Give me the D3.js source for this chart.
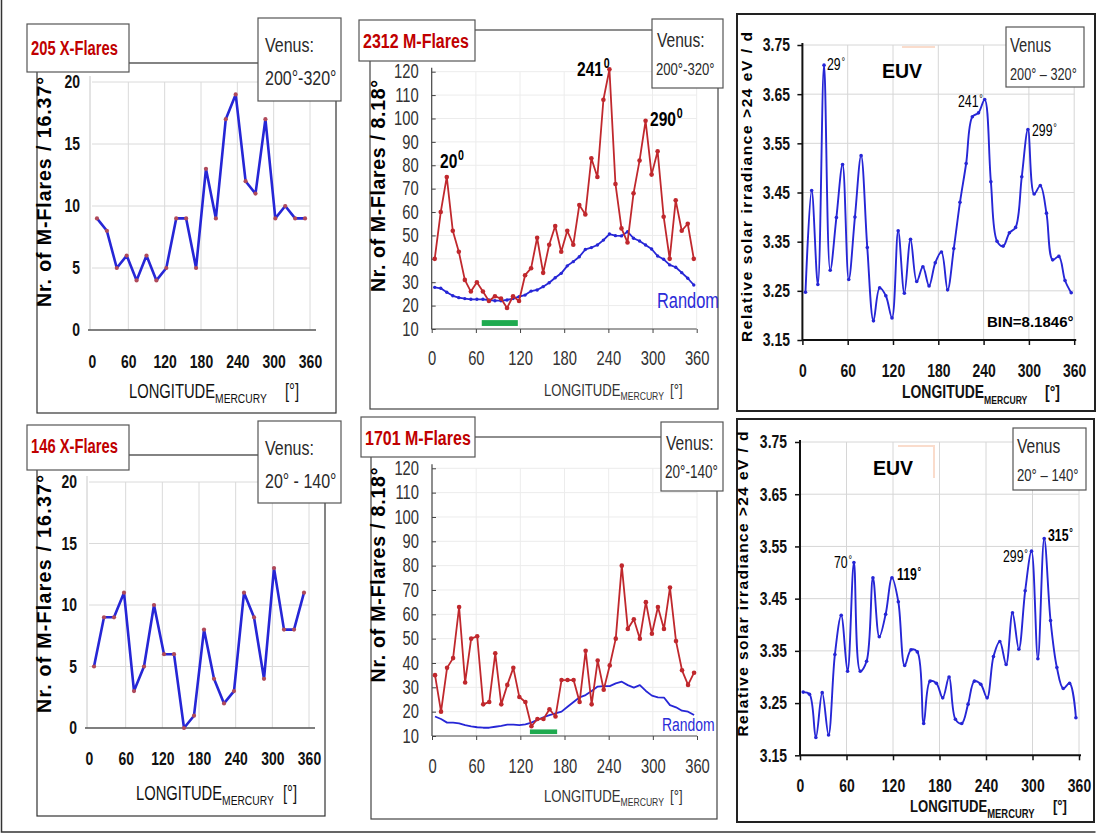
<!DOCTYPE html>
<html>
<head>
<meta charset="utf-8">
<script src="https://cdn.jsdelivr.net/npm/d3@7"></script>
<style>
  body { margin: 0; background: #fff; }
</style>
</head>
<body>
<svg id="fig" width="1097" height="834"></svg>
<script>
// DATA
const longitudeTicks = [0, 60, 120, 180, 240, 300, 360];
const xFlareTicks = [0, 5, 10, 15, 20];
const mFlareTicks = [10, 20, 30, 40, 50, 60, 70, 80, 90, 100, 110, 120];
const euvTicks = [3.15, 3.25, 3.35, 3.45, 3.55, 3.65, 3.75];

const bin16 = 360 / 22;   // 16.37 deg
const bin8 = 8.1846;      // 8.18 deg

const xFlaresVenus200 = [9, 8, 5, 6, 4, 6, 4, 5, 9, 9, 5, 13, 9, 17, 19, 12, 11, 17, 9, 10, 9, 9];
const xFlaresVenus20 = [5, 9, 9, 11, 3, 5, 10, 6, 6, 0, 1, 8, 4, 2, 3, 11, 9, 4, 13, 8, 8, 11];

const mFlaresVenus200 = [40, 60, 75, 52, 43, 31, 26, 30, 26, 22, 24, 23, 19, 24, 22, 33, 36, 49, 34, 46,
  54, 43, 52, 46, 63, 59, 83, 75, 108, 121, 72, 53, 47, 68, 82, 99, 76, 86, 58, 40, 65, 52, 55, 40];
const randomVenus200 = [27.8, 27.4, 25.7, 24.2, 23.4, 23, 22.7, 22.7, 22.7, 22.4, 22.1, 22.1, 22.4, 23, 23.8,
  24.5, 26.2, 26.7, 28.1, 29.8, 31.9, 33.8, 37, 38.8, 40.9, 44, 44.8, 45.9, 48, 50.6, 49.9, 49.8, 51.6, 48.8,
  47.6, 45.9, 44.2, 41.2, 39.8, 37.4, 36.4, 34.1, 31.7, 28.8];

const mFlaresVenus20 = [35, 20, 38, 42, 63, 32, 50, 51, 23, 24, 44, 23, 31, 38, 26, 24, 14, 17, 17, 21,
  18, 33, 33, 33, 24, 45, 23, 41, 29, 39, 50, 80, 54, 58, 50, 65, 52, 63, 54, 71, 49, 37, 31, 36];
const randomVenus20 = [18, 17, 15.5, 15.5, 15.2, 14.5, 14, 13.6, 13.4, 13.4, 13.8, 14.2, 14.7, 14.7, 14.5,
  14.8, 15.5, 16.6, 17.7, 18.6, 19.3, 20, 22, 24, 25.9, 26.8, 28.5, 30.3, 30.5, 30.5, 31.6, 32.3, 30.9, 29.9,
  30.9, 28.5, 26.6, 25.9, 25.8, 22.7, 21.8, 20.4, 20, 18.6];

const euvVenus200 = [3.247, 3.454, 3.263, 3.709, 3.292, 3.399, 3.507, 3.273, 3.40, 3.525, 3.338, 3.189,
  3.256, 3.24, 3.195, 3.372, 3.245, 3.355, 3.269, 3.299, 3.26, 3.307, 3.329, 3.252, 3.336, 3.43, 3.509,
  3.604, 3.612, 3.639, 3.472, 3.351, 3.341, 3.368, 3.379, 3.482, 3.578, 3.447, 3.464, 3.408, 3.313, 3.32,
  3.271, 3.246];
const euvVenus20 = [3.271, 3.267, 3.184, 3.27, 3.189, 3.343, 3.418, 3.311, 3.519, 3.311, 3.33, 3.49,
  3.377, 3.42, 3.49, 3.444, 3.322, 3.352, 3.348, 3.211, 3.292, 3.288, 3.26, 3.3, 3.219, 3.211, 3.248,
  3.292, 3.286, 3.26, 3.339, 3.368, 3.324, 3.423, 3.353, 3.465, 3.541, 3.335, 3.565, 3.408, 3.318, 3.278,
  3.288, 3.222];

const venusOpposite200 = [68, 117];
const venusOpposite20 = [133, 170];

//SETUP
const svg = d3.select('#fig');
const FONT = '"Liberation Sans",Arial,sans-serif';
const RED = '#c0282d';
const BLUE = '#2626d6';
const SQUEEZE = 0.76;
const degMarks = [];

// text drawn with class "narrow" is squeezed at the end to imitate the condensed face
function label(g, x, y, txt, o = {}) {
  return g.append('text')
    .classed('narrow', !o.wide)
    .attr('x', x)
    .attr('y', y)
    .attr('fill', o.color || '#000')
    .attr('text-anchor', o.anchor || 'start')
    .style('font-family', FONT)
    .style('font-size', (o.size || 16) + 'px')
    .style('font-weight', o.bold ? 'bold' : 'normal')
    .text(txt);
}

function box(g, x, y, w, h, stroke = '#444', sw = 1.2, fill = '#fff') {
  g.append('rect')
    .attr('x', x).attr('y', y)
    .attr('width', w).attr('height', h)
    .attr('fill', fill)
    .attr('stroke', stroke)
    .attr('stroke-width', sw);
}

function grid(g, x, y, yTicks, color) {
  const [y0, y1] = y.range();
  g.append('g').selectAll('line').data(longitudeTicks.slice(1)).join('line')
    .attr('x1', (d) => x(d)).attr('x2', (d) => x(d))
    .attr('y1', y0).attr('y2', y1)
    .attr('stroke', color);
  g.append('g').selectAll('line').data(yTicks.slice(1)).join('line')
    .attr('x1', x(0)).attr('x2', x(360))
    .attr('y1', (d) => y(d)).attr('y2', (d) => y(d))
    .attr('stroke', color);
}

function axes(g, x, y, yTicks, o) {
  const yAxis = d3.axisLeft(y).tickValues(yTicks)
    .tickSizeInner(o.yTick).tickSizeOuter(0).tickPadding(o.yPad).tickFormat(o.yFmt);
  const gy = g.append('g').attr('transform', `translate(${x(0)},0)`).call(yAxis);
  const xAxis = d3.axisBottom(x).tickValues(longitudeTicks)
    .tickSizeInner(o.xTick).tickSizeOuter(0).tickPadding(o.xPad).tickFormat(d3.format('d'));
  const gx = g.append('g').attr('transform', `translate(0,${y.range()[0]})`).call(xAxis);
  [gy, gx].forEach((a) => {
    a.select('.domain').remove();
    a.selectAll('.tick line').attr('stroke', o.axisColor).attr('stroke-width', o.axisWidth);
    a.selectAll('text')
      .classed('narrow', true)
      .attr('fill', o.textColor)
      .style('font-family', FONT)
      .style('font-weight', o.bold ? 'bold' : 'normal');
  });
  gy.selectAll('text').style('font-size', o.ySize + 'px');
  gx.selectAll('text').style('font-size', o.xSize + 'px');
}

function series(g, x, y, lon, vals, o) {
  const line = d3.line()
    .x((d, i) => x(lon[i]))
    .y((d) => y(d))
    .curve(o.curve || d3.curveLinear);
  g.append('path').datum(vals)
    .attr('d', line)
    .attr('fill', 'none')
    .attr('stroke', o.color)
    .attr('stroke-width', o.width)
    .attr('stroke-linejoin', 'round');
  if (o.r) {
    g.append('g').selectAll('circle').data(vals).join('circle')
      .attr('cx', (d, i) => x(lon[i]))
      .attr('cy', (d) => y(d))
      .attr('r', o.r)
      .attr('fill', o.marker || o.color);
  }
}

function xTitle(g, xPos, yPos, o) {
  const t = g.append('text')
    .classed('narrow', true)
    .attr('x', xPos).attr('y', yPos)
    .attr('fill', o.color)
    .style('font-family', FONT)
    .style('font-size', o.size + 'px')
    .style('font-weight', o.bold ? 'bold' : 'normal');
  t.append('tspan').text('LONGITUDE');
  t.append('tspan').text('MERCURY').attr('dy', o.subDy).style('font-size', o.subSize + 'px');
  label(g, o.bx, yPos, '[°]', { size: o.size, color: o.color, bold: o.bold });
}

function yTitle(g, cx, cy, txt, len, o) {
  g.append('text')
    .attr('transform', `translate(${cx},${cy}) rotate(-90)`)
    .attr('text-anchor', 'middle')
    .attr('textLength', len)
    .attr('lengthAdjust', 'spacing')
    .attr('fill', '#000')
    .style('font-family', FONT)
    .style('font-size', o.size + 'px')
    .style('font-weight', 'bold')
    .text(txt);
}

// number and raised degree mark as two texts; the mark is placed after condensing
function degLabel(g, x, y, num, o) {
  const t = label(g, x, y, num, o);
  const s = label(g, x, y + (o.supDy || 0), o.sup || '°', { ...o, size: o.supSize || o.size });
  degMarks.push([t, s, x]);
}

//OUTER FRAME
svg.append('path')
  .attr('d', 'M1.5,0V832H1095.5')
  .attr('fill', 'none').attr('stroke', '#333').attr('stroke-width', 1.5);

//X-FLARE PANELS
function xFlarePanel(vals, L) {
  const g = svg.append('g');
  box(g, L.frame[0], L.frame[1], L.frame[2], L.frame[3], '#333', 1.2);
  const x = d3.scaleLinear().domain([0, 360]).range(L.xr);
  const y = d3.scaleLinear().domain([0, 20]).range(L.yr);
  grid(g, x, y, xFlareTicks, '#dadada');
  g.append('line').attr('x1', x(0) - 2).attr('x2', x(0) - 2)
    .attr('y1', y(0)).attr('y2', y(20) - 6).attr('stroke', '#c8c8c8');
  g.append('line').attr('x1', x(0) - 4).attr('x2', x(360) + 6)
    .attr('y1', y(0)).attr('y2', y(0)).attr('stroke', '#555').attr('stroke-width', 1.4);
  axes(g, x, y, xFlareTicks, {
    yTick: 0, yPad: 12, yFmt: d3.format('d'), xTick: 0, xPad: L.xPad,
    axisColor: '#555', axisWidth: 1, textColor: '#111', bold: true, ySize: 17, xSize: 17,
  });
  const lon = vals.map((d, i) => (i + 0.5) * bin16);
  series(g, x, y, lon, vals, { color: BLUE, width: 2.6, r: 2.1, marker: '#b04a5a' });
  yTitle(g, 51, L.yMid, 'Nr.  of  M-Flares  / 16.37°', L.yLen, { size: 19.5 });
  xTitle(g, L.xt[0], L.xt[1], { size: 18, subSize: 12.5, subDy: 5, bx: L.xt[2], color: '#111' });
  box(g, L.title[0], L.title[1], L.title[2], L.title[3], '#555', 1.2);
  label(g, L.title[0] + 4, L.title[1] + L.title[4], L.name, { size: 18, bold: true, color: '#c00000' });
  box(g, L.venus[0], L.venus[1], L.venus[2], L.venus[3], '#555', 1.2);
  label(g, L.venus[0] + 7, L.venus[1] + 34, 'Venus:', { size: 19.5, color: '#2a2a2a' });
  label(g, L.venus[0] + 7, L.venus[1] + 67, L.venusRange, { size: 19.5, color: '#2a2a2a' });
}

xFlarePanel(xFlaresVenus200, {
  frame: [37, 63, 299, 350], xr: [92, 310], yr: [330, 82], xPad: 25,
  yMid: 192, yLen: 230, xt: [129, 398, 285],
  title: [27, 24, 102, 48, 31], name: '205 X-Flares',
  venus: [258, 18, 83, 83], venusRange: '200°-320°',
});
xFlarePanel(xFlaresVenus20, {
  frame: [37, 455, 288, 361], xr: [89, 309], yr: [728, 482], xPad: 24,
  yMid: 594, yLen: 238, xt: [136, 800, 283],
  title: [27, 425, 102, 45, 28], name: '146 X-Flares',
  venus: [258, 421, 83, 82], venusRange: '20° - 140°',
});

//M-FLARE PANELS
function mFlarePanel(vals, rnd, L) {
  const g = svg.append('g');
  box(g, L.frame[0], L.frame[1], L.frame[2], L.frame[3], '#444', 1.2);
  const x = d3.scaleLinear().domain([0, 360]).range(L.xr);
  const y = d3.scaleLinear().domain([10, 120]).range(L.yr);
  grid(g, x, y, mFlareTicks, '#ececec');
  g.append('line').attr('x1', x(0)).attr('x2', x(0))
    .attr('y1', y(10)).attr('y2', y(120) - 4).attr('stroke', '#444').attr('stroke-width', 1.2);
  g.append('line').attr('x1', x(0)).attr('x2', x(360))
    .attr('y1', y(10)).attr('y2', y(10)).attr('stroke', '#444').attr('stroke-width', 1.2);
  axes(g, x, y, mFlareTicks, {
    yTick: -4, yPad: 13, yFmt: d3.format('d'), xTick: 4, xPad: L.xPad,
    axisColor: '#444', axisWidth: 1, textColor: '#333', bold: false, ySize: 18, xSize: 18,
  });
  g.append('rect')
    .attr('x', x(L.green[0])).attr('width', x(L.green[1]) - x(L.green[0]))
    .attr('y', y(L.greenY[1])).attr('height', y(L.greenY[0]) - y(L.greenY[1]))
    .attr('fill', '#1faa4f');
  const lon = vals.map((d, i) => (i + 0.5) * bin8);
  series(g, x, y, lon, rnd, { color: BLUE, width: 1.8, r: L.rndMarker });
  series(g, x, y, lon, vals, { color: RED, width: 1.8, r: 2.3 });
  label(g, L.random[0], L.random[1], 'Random', { size: L.random[2], color: '#2b2bd8' });
  L.peaks.forEach((p) => degLabel(g, p[0], p[1], p[2], { size: 19, bold: true, sup: '0', supSize: 13, supDy: -8 }));
  yTitle(g, 385, L.yMid, 'Nr.  of  M-Flares  / 8.18°', L.yLen, { size: 19.5 });
  xTitle(g, 544, L.xtY, { size: 16, subSize: 10.5, subDy: 4, bx: 670, color: '#333' });
  box(g, L.title[0], L.title[1], L.title[2], L.title[3], '#555', 1.2);
  label(g, L.title[0] + 4, L.title[1] + L.title[4], L.name, { size: 19.5, bold: true, color: '#c00000' });
  box(g, L.venus[0], L.venus[1], L.venus[2], L.venus[3], '#555', 1.2);
  label(g, L.venus[0] + 5, L.venus[1] + 28, 'Venus:', { size: 19, color: '#2a2a2a' });
  label(g, L.venus[0] + 4, L.venus[1] + 56, L.venusRange, { size: L.venusSize, color: '#2a2a2a' });
}

mFlarePanel(mFlaresVenus200, randomVenus200, {
  frame: [370, 30, 348, 379], xr: [431.7, 696.7], yr: [329, 71.7], xPad: 18,
  green: venusOpposite200, greenY: [11.3, 13.8], rndMarker: 1.7,
  random: [657, 308, 20], yMid: 186, yLen: 212, xtY: 396,
  peaks: [[440, 168, '20'], [577, 76, '241'], [650, 126, '290']],
  title: [359, 20, 116, 41, 28], name: '2312 M-Flares',
  venus: [652, 19, 71, 69], venusRange: '200°-320°', venusSize: 16,
});
mFlarePanel(mFlaresVenus20, randomVenus20, {
  frame: [371, 437, 346, 382], xr: [432, 697], yr: [736, 468.3], xPad: 19,
  green: venusOpposite20, greenY: [10.8, 12.7], rndMarker: 0,
  random: [662, 731, 17], yMid: 575, yLen: 215, xtY: 802,
  peaks: [],
  title: [361, 417, 114, 40, 28], name: '1701 M-Flares',
  venus: [661, 422, 62, 69], venusRange: '20°-140°', venusSize: 16.5,
});

//EUV PANELS
function euvPanel(vals, L) {
  const g = svg.append('g');
  box(g, L.frame[0], L.frame[1], L.frame[2], L.frame[3], '#222', 2);
  const x = d3.scaleLinear().domain([0, 360]).range(L.xr);
  const y = d3.scaleLinear().domain([3.15, 3.75]).range(L.yr);
  grid(g, x, y, euvTicks, '#d6d6d6');
  g.append('path').attr('d', L.corner).attr('fill', 'none')
    .attr('stroke', '#fadccc').attr('stroke-width', 2);
  g.append('line').attr('x1', x(0)).attr('x2', x(0))
    .attr('y1', y(3.15)).attr('y2', y(3.75) - 2).attr('stroke', '#111').attr('stroke-width', 2);
  g.append('line').attr('x1', x(0)).attr('x2', x(360) + 2)
    .attr('y1', y(3.15)).attr('y2', y(3.15)).attr('stroke', '#111').attr('stroke-width', 2);
  axes(g, x, y, euvTicks, {
    yTick: 5, yPad: L.yPad, yFmt: d3.format('.2f'), xTick: 5, xPad: L.xPad,
    axisColor: '#111', axisWidth: 1.5, textColor: '#111', bold: true, ySize: 17, xSize: 17,
  });
  const lon = vals.map((d, i) => (i + 0.5) * bin8);
  series(g, x, y, lon, vals, { color: BLUE, width: 1.9, r: 1.8, curve: d3.curveCatmullRom.alpha(0.5) });
  L.peaks.forEach((p) => degLabel(g, p[0], p[1], p[2], { size: 15, supSize: 11, supDy: -4, bold: p[3] }));
  label(g, L.euv[0], L.euv[1], 'EUV', { wide: true, size: 19.5, bold: true });
  if (L.bin) label(g, L.bin[0], L.bin[1], 'BIN=8.1846°', { wide: true, size: 15, bold: true });
  yTitle(g, L.yx, L.yMid, 'Relative solar irradiance >24 eV / d', L.yLen, { size: 15.5 });
  xTitle(g, L.xt[0], L.xt[1], { size: L.xt[3], subSize: L.xt[4], subDy: 6, bx: L.xt[2], color: '#111', bold: true });
  box(g, L.venus[0], L.venus[1], L.venus[2], L.venus[3], '#555', 1.2);
  label(g, L.venus[0] + 4, L.venus[1] + 25, 'Venus', { size: L.venusSize[0], color: '#2a2a2a' });
  label(g, L.venus[0] + 4, L.venus[1] + 53, L.venusRange, { size: L.venusSize[1], color: '#2a2a2a' });
}

euvPanel(euvVenus200, {
  frame: [737, 14, 358, 397], xr: [802.4, 1074.2], yr: [340, 45], yPad: 7.4, xPad: 19,
  corner: 'M902,47H935',
  peaks: [[827, 70, '29'], [958, 107, '241'], [1032, 136, '299']],
  euv: [882, 78], bin: [987, 327], yx: 752, yMid: 187, yLen: 310,
  xt: [902, 398, 1045, 17, 10.5],
  venus: [1006, 27, 78, 60], venusRange: '200° – 320°', venusSize: [18, 15.5],
});
euvPanel(euvVenus20, {
  frame: [737, 419, 357, 403], xr: [800, 1079], yr: [755.3, 442], yPad: 8, xPad: 18.7,
  corner: 'M898,446H934V478',
  peaks: [[834, 568, '70'], [897, 580, '119', true], [1003, 562, '299'], [1048, 541, '315', true]],
  euv: [873, 475], bin: null, yx: 748, yMid: 584, yLen: 305,
  xt: [910, 812, 1053, 16, 11.5],
  venus: [1013, 428, 73, 62], venusRange: '20° – 140°', venusSize: [19, 16],
});

//CONDENSE NARROW TEXT (taller, narrower glyphs like the original face)
svg.selectAll('text.narrow').each(function () {
  const el = d3.select(this);
  [this, ...el.selectAll('tspan').nodes()].forEach((n) => {
    const f = parseFloat(n.style.fontSize);
    if (f) n.style.fontSize = (f * 1.08) + 'px';
  });
  const x0 = +this.getAttribute('x') || 0;
  el.attr('transform', `translate(${x0},0) scale(${SQUEEZE},1) translate(${-x0},0)`);
});

// the mark keeps the number's squeeze origin, so it is offset in unsqueezed units
degMarks.forEach(([t, s, x]) => {
  s.attr('x', x + t.node().getComputedTextLength() + 1);
});
</script>
</body>
</html>
